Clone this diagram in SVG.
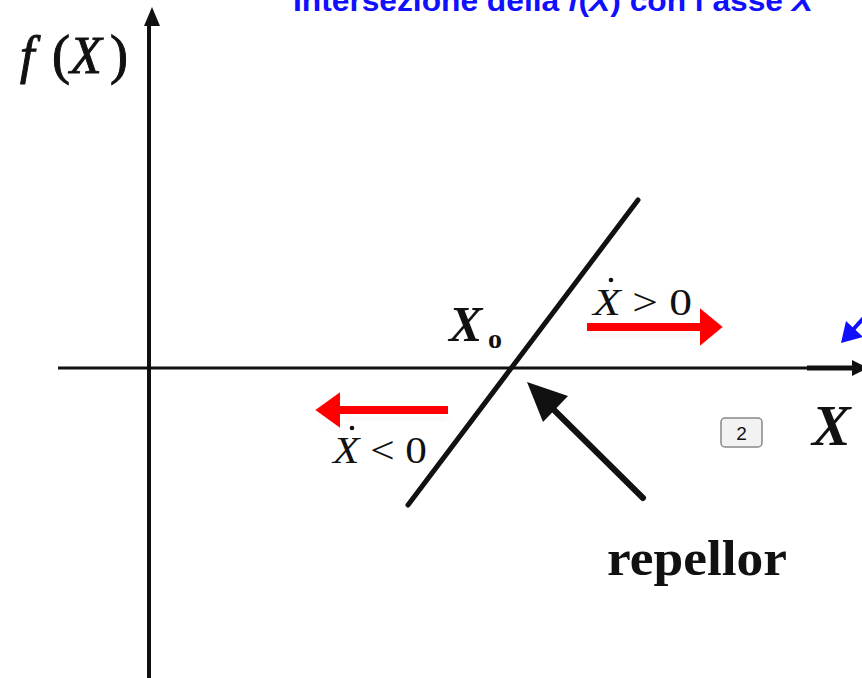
<svg xmlns="http://www.w3.org/2000/svg" width="862" height="678" viewBox="0 0 862 678">
  <defs>
    <style>
      .ax{stroke:#111;stroke-width:4;fill:none}
      .serif{font-family:"Liberation Serif","Times New Roman",serif;fill:#111}
      .red{fill:#ff0000}
    </style>
    <filter id="glow" x="-30%" y="-60%" width="160%" height="220%">
      <feMorphology in="SourceAlpha" operator="dilate" radius="4" result="d"/>
      <feGaussianBlur in="d" stdDeviation="2" result="db"/>
      <feFlood flood-color="#ffffff"/>
      <feComposite in2="db" operator="in" result="white"/>
      <feGaussianBlur in="SourceAlpha" stdDeviation="2.5" result="sb"/>
      <feOffset in="sb" dx="0" dy="4" result="so"/>
      <feFlood flood-color="#000" flood-opacity="0.25"/>
      <feComposite in2="so" operator="in" result="shadow"/>
      <feMerge>
        <feMergeNode in="shadow"/>
        <feMergeNode in="white"/>
        <feMergeNode in="SourceGraphic"/>
      </feMerge>
    </filter>
  </defs>
  <rect width="862" height="678" fill="#ffffff"/>

  <g id="title">
    <text x="293" y="11" textLength="520" lengthAdjust="spacingAndGlyphs" font-family="'Liberation Sans',Arial,sans-serif" font-weight="bold" font-size="30" fill="#1010ff">Intersezione della <tspan font-style="italic">f</tspan>(<tspan font-style="italic">X</tspan>) con l’asse <tspan font-style="italic">X</tspan></text>
  </g>

  <g id="axes">
    <line class="ax" x1="149" y1="22" x2="149" y2="678"/>
    <polygon points="152,7 144,26 160,26" fill="#111"/>
    <line x1="58" y1="368" x2="862" y2="368" stroke="#111" stroke-width="3"/>
    <line x1="807" y1="368" x2="862" y2="368" stroke="#111" stroke-width="5"/>
    <polygon points="868,368 852,360 852,376" fill="#111"/>
  </g>

  <g id="fX-label">
    <text class="serif" y="73" font-size="52" font-style="italic" stroke="#111" stroke-width="1"><tspan x="20">f</tspan><tspan x="52" font-style="normal" font-size="54">(</tspan><tspan x="70">X</tspan><tspan x="110" font-style="normal" font-size="54">)</tspan></text>
  </g>

  <g id="curve">
    <line x1="638" y1="200" x2="408" y2="505" stroke="#111" stroke-width="5" stroke-linecap="round"/>
  </g>

  <g id="x0-label">
    <text class="serif" x="449" y="341" font-size="50" font-weight="bold" font-style="italic">X</text>
    <text class="serif" x="488" y="348" font-size="28" font-weight="bold">o</text>
  </g>

  <g id="xdot-pos">
    <text class="serif" x="593" y="315" font-size="38" textLength="99" lengthAdjust="spacingAndGlyphs"><tspan font-style="italic">X</tspan> &gt; 0</text>
    <circle cx="611" cy="280" r="2.3" fill="#111"/>
  </g>

  <g id="xdot-neg">
    <text class="serif" x="333" y="463" font-size="38" textLength="94" lengthAdjust="spacingAndGlyphs"><tspan font-style="italic">X</tspan> &lt; 0</text>
    <circle cx="352" cy="428" r="2.3" fill="#111"/>
  </g>

  <g id="red-arrow-right" filter="url(#glow)">
    <rect class="red" x="587" y="323" width="115" height="8"/>
    <polygon class="red" points="723,327 700,308 700,346"/>
  </g>

  <g id="red-arrow-left" filter="url(#glow)">
    <rect class="red" x="338" y="406" width="110" height="8"/>
    <polygon class="red" points="315,410 340,392 340,428"/>
  </g>

  <g id="connectors">
    <line x1="643" y1="498" x2="548" y2="404" stroke="#111" stroke-width="6" stroke-linecap="round"/>
    <polygon points="527,382 568,396 543,422" fill="#111"/>
    <line x1="880" y1="300" x2="850" y2="333" stroke="#1010ff" stroke-width="4"/>
    <polygon points="841,343 846,321 863,337" fill="#1010ff"/>
  </g>

  <g id="repellor-label">
    <text class="serif" x="607" y="575" font-size="50" font-weight="bold" textLength="180" lengthAdjust="spacingAndGlyphs">repellor</text>
  </g>

  <g id="badge">
    <rect x="721" y="418" width="41" height="29" rx="4" fill="#f2f2f2" stroke="#888" stroke-width="1.5"/>
    <text x="741.5" y="440" text-anchor="middle" font-family="'Liberation Sans',Arial,sans-serif" font-size="19" fill="#111">2</text>
  </g>

  <g id="x-axis-label">
    <text class="serif" x="812" y="445" font-size="58" font-weight="bold" font-style="italic">X</text>
  </g>
</svg>
